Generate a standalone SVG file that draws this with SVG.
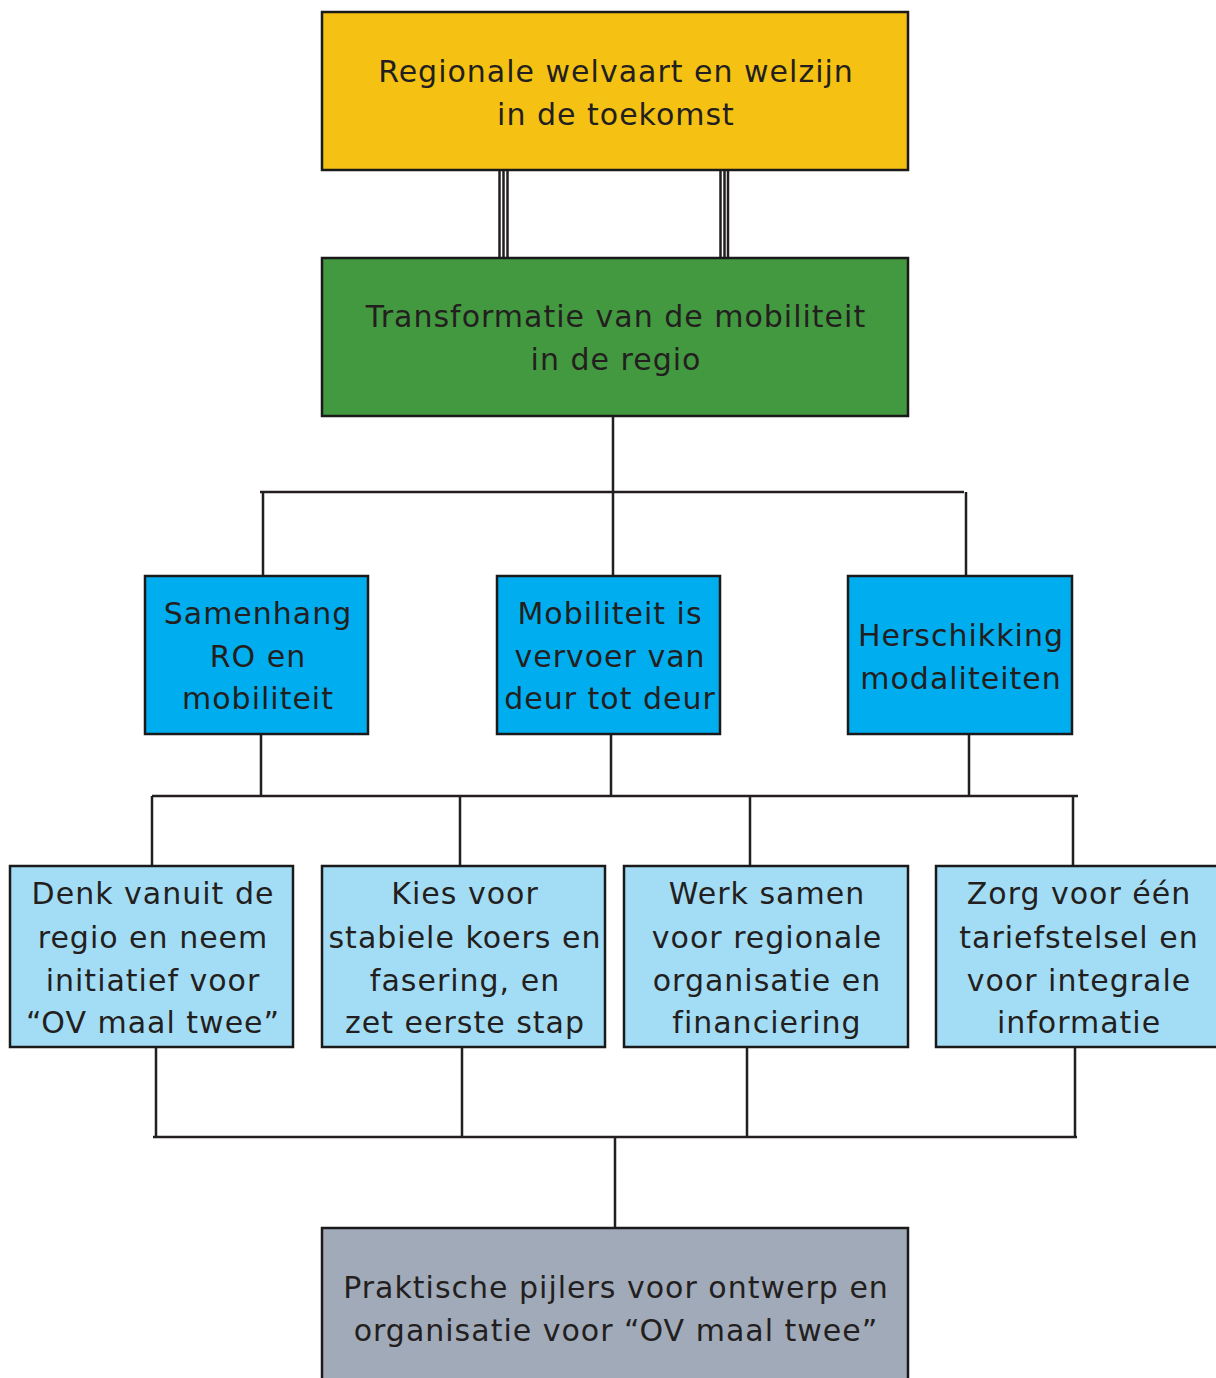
<svg xmlns="http://www.w3.org/2000/svg" width="1216" height="1378" viewBox="0 0 1216 1378">
<style>
.box{stroke:#1a1a1a;stroke-width:2.5}
.t{font-family:"DejaVu Sans","Verdana",sans-serif;font-size:30px;letter-spacing:1px;fill:#231f20;text-anchor:middle}
.c{stroke:#231f20;stroke-width:2.5;fill:none}
</style>
<rect width="1216" height="1378" fill="#fff"/>
<g id="connectors">
<line class="c" x1="499.5" y1="171" x2="499.5" y2="257" stroke-width="1.3" stroke="#555"/>
<line class="c" x1="503.5" y1="171" x2="503.5" y2="257" stroke-width="2"/>
<line class="c" x1="507.5" y1="171" x2="507.5" y2="257" stroke-width="1.5" stroke="#444"/>
<line class="c" x1="720.5" y1="171" x2="720.5" y2="257" stroke-width="1.3" stroke="#555"/>
<line class="c" x1="724.5" y1="171" x2="724.5" y2="257" stroke-width="2"/>
<line class="c" x1="728" y1="171" x2="728" y2="257" stroke-width="1.5" stroke="#444"/>
<path class="c" d="M613 416V492M260 492H964M263 492V576M613 492V576M966 492V576"/>
<path class="c" d="M261 734V796M611 734V796M969 734V796M152 796H1078M152 796V866M460 796V866M750 796V866M1073 796V866"/>
<path class="c" d="M156 1047V1137M462 1047V1137M747 1047V1137M1075 1047V1137M153 1137H1077M615 1137V1228"/>
</g>
<g id="n1"><rect class="box" x="322" y="12" width="586" height="158" fill="#f5c213"/>
<text class="t" x="616" y="82">Regionale welvaart en welzijn</text><text class="t" x="616" y="125">in de toekomst</text></g>
<g id="n2"><rect class="box" x="322" y="258" width="586" height="158" fill="#43993f"/>
<text class="t" x="616" y="327">Transformatie van de mobiliteit</text><text class="t" x="616" y="370">in de regio</text></g>
<g id="n3"><rect class="box" x="145" y="576" width="223" height="158" fill="#00aeef"/>
<text class="t" x="258" y="624">Samenhang</text><text class="t" x="258" y="667">RO en</text><text class="t" x="258" y="709">mobiliteit</text></g>
<g id="n4"><rect class="box" x="497" y="576" width="223" height="158" fill="#00aeef"/>
<text class="t" x="610" y="624">Mobiliteit is</text><text class="t" x="610" y="667">vervoer van</text><text class="t" x="610" y="709">deur tot deur</text></g>
<g id="n5"><rect class="box" x="848" y="576" width="224" height="158" fill="#00aeef"/>
<text class="t" x="961" y="646">Herschikking</text><text class="t" x="961" y="689">modaliteiten</text></g>
<g id="n6"><rect class="box" x="10" y="866" width="283" height="181" fill="#a3ddf5"/>
<text class="t" x="153" y="904">Denk vanuit de</text><text class="t" x="153" y="948">regio en neem</text><text class="t" x="153" y="991">initiatief voor</text><text class="t" x="153" y="1033">“OV maal twee”</text></g>
<g id="n7"><rect class="box" x="322" y="866" width="283" height="181" fill="#a3ddf5"/>
<text class="t" x="465" y="904">Kies voor</text><text class="t" x="465" y="948">stabiele koers en</text><text class="t" x="465" y="991">fasering, en</text><text class="t" x="465" y="1033">zet eerste stap</text></g>
<g id="n8"><rect class="box" x="624" y="866" width="284" height="181" fill="#a3ddf5"/>
<text class="t" x="767" y="904">Werk samen</text><text class="t" x="767" y="948">voor regionale</text><text class="t" x="767" y="991">organisatie en</text><text class="t" x="767" y="1033">financiering</text></g>
<g id="n9"><rect class="box" x="936" y="866" width="284" height="181" fill="#a3ddf5"/>
<text class="t" x="1079" y="904">Zorg voor één</text><text class="t" x="1079" y="948">tariefstelsel en</text><text class="t" x="1079" y="991">voor integrale</text><text class="t" x="1079" y="1033">informatie</text></g>
<g id="n10"><rect class="box" x="322" y="1228" width="586" height="160" fill="#a1aab8"/>
<text class="t" x="616" y="1298">Praktische pijlers voor ontwerp en</text><text class="t" x="616" y="1341">organisatie voor “OV maal twee”</text></g>
</svg>
